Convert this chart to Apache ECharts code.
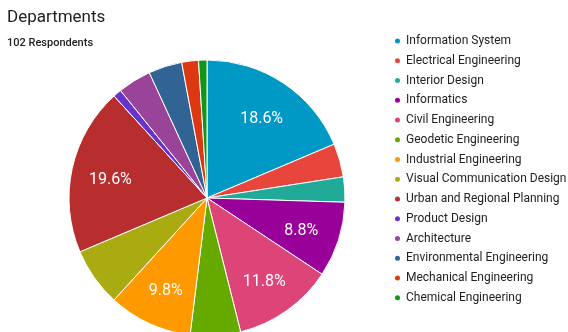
<!DOCTYPE html>
<html>
<head>
<meta charset="utf-8">
<script src="https://cdn.jsdelivr.net/npm/echarts@6/dist/echarts.min.js"></script>
<style>
  html, body { margin: 0; padding: 0; background: #fff; }
  #chart { width: 568px; height: 332px; }
</style>
</head>
<body>
<div id="chart"></div>
<script>
// Departments of the respondents (102 in total)
const departments = [
  'Information System', 'Electrical Engineering', 'Interior Design', 'Informatics',
  'Civil Engineering', 'Geodetic Engineering', 'Industrial Engineering',
  'Visual Communication Design', 'Urban and Regional Planning', 'Product Design',
  'Architecture', 'Environmental Engineering', 'Mechanical Engineering', 'Chemical Engineering'
];
const respondents = [19, 4, 3, 9, 12, 6, 10, 7, 20, 1, 4, 4, 2, 1];
const sliceColors = [
  '#0099C6', '#E8453C', '#22AA99', '#990099', '#DD4477', '#66AA00', '#FF9900',
  '#AAAA11', '#B82E2E', '#6633CC', '#994499', '#316395', '#DC3912', '#109618'
];

const pieData = departments.map((name, i) => ({
  name, value: respondents[i], itemStyle: { color: sliceColors[i] }
}));

const center = [207, 198];
const radius = 138;

const chart = echarts.init(document.getElementById('chart'));
chart.setOption({
  animation: false,
  title: {
    text: 'Departments',
    subtext: '102 Respondents',
    left: 2,
    top: 4,
    itemGap: 12,
    textStyle: { fontFamily: 'Roboto', fontSize: 17, fontWeight: 'normal', color: '#212121' },
    subtextStyle: { fontFamily: 'Roboto', fontSize: 11, fontWeight: 500, color: '#212121' }
  },
  legend: {
    orient: 'vertical',
    left: 388,
    top: 29,
    icon: 'circle',
    itemWidth: 7,
    itemHeight: 7,
    itemGap: 5.75,
    data: departments,
    textStyle: { fontFamily: 'Roboto', fontSize: 12, lineHeight: 14, color: '#222' }
  },
  series: [
    {
      type: 'pie',
      center,
      radius,
      startAngle: 90,
      clockwise: true,
      data: pieData,
      label: { show: false },
      labelLine: { show: false },
      itemStyle: { borderColor: '#fff', borderWidth: 1 }
    },
    {
      // Label layer: a transparent pie twice the label radius so the
      // "inside" label sits at ~70% of the visible radius.
      type: 'pie',
      center,
      radius: radius * 1.39,
      startAngle: 90,
      clockwise: true,
      silent: true,
      legendHoverLink: false,
      data: pieData.map(d => ({ name: d.name, value: d.value, itemStyle: { color: 'rgba(0,0,0,0)' } })),
      label: {
        show: true,
        position: 'inside',
        offset: [0, 3],
        fontFamily: 'Roboto',
        fontSize: 16,
        color: '#fff',
        formatter: p => (p.percent >= 8 ? p.percent.toFixed(1) + '%' : '')
      },
      labelLine: { show: false },
      emphasis: { disabled: true }
    }
  ]
});
</script>
</body>
</html>
